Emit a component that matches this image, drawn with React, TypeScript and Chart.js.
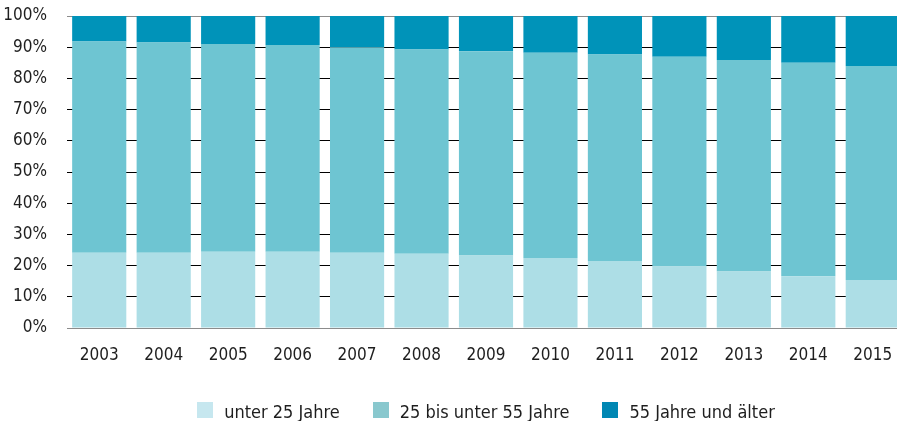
import React, { useEffect, useRef } from "react";
import { Chart, registerables } from "chart.js";

Chart.register(...registerables);

const years = ["2003", "2004", "2005", "2006", "2007", "2008", "2009", "2010", "2011", "2012", "2013", "2014", "2015"];
const seriesLabels = ["unter 25 Jahre", "25 bis unter 55 Jahre", "55 Jahre und älter"];
const under25 = [24.1, 24.1, 24.4, 24.4, 24.1, 23.8, 23.2, 22.4, 21.5, 19.7, 18.1, 16.6, 15.4];
const from25to55 = [67.7, 67.4, 66.6, 66.3, 65.9, 65.5, 65.5, 65.8, 66.2, 67.2, 67.8, 68.4, 68.6];
const over55 = [8.2, 8.5, 9.0, 9.3, 10.0, 10.7, 11.3, 11.8, 12.3, 13.1, 14.1, 15.0, 16.0];
const yTicks = [0, 10, 20, 30, 40, 50, 60, 70, 80, 90, 100];

const barColors = ["#addee6", "#6ec5d2", "#0093b9"];
const legendColors = ["#c6e7ef", "#89c8ce", "#0087b3"];
const FONT = '"DejaVu Sans Condensed", "DejaVu Sans", sans-serif';
const TEXT = "#1e1e1e";

const legendPlugin = {
  id: "customLegend",
  afterDraw(chart: any) {
    const ctx = chart.ctx;
    const area = chart.chartArea;
    ctx.save();
    ctx.font = `18px ${FONT}`;
    ctx.textBaseline = "alphabetic";
    ctx.textAlign = "left";
    const box = 16;
    const gap = 11;
    const itemGap = 33;
    const widths = seriesLabels.map((t) => box + gap + ctx.measureText(t).width);
    const total = widths.reduce((a, b) => a + b, 0) + itemGap * (widths.length - 1);
    let x = (area.left + area.right) / 2 - total / 2;
    const boxTop = 402;
    const baseline = 418;
    seriesLabels.forEach((t, i) => {
      ctx.fillStyle = legendColors[i];
      ctx.fillRect(Math.round(x), boxTop, box, box);
      ctx.fillStyle = TEXT;
      ctx.fillText(t, x + box + gap, baseline);
      x += widths[i] + itemGap;
    });
    ctx.restore();
  },
};

export default function App() {
  const ref = useRef<HTMLCanvasElement>(null);
  useEffect(() => {
    if (!ref.current) return;
    const chart = new Chart(ref.current, {
      type: "bar",
      data: {
        labels: years,
        datasets: [
          { label: seriesLabels[0], data: under25, backgroundColor: barColors[0] },
          { label: seriesLabels[1], data: from25to55, backgroundColor: barColors[1] },
          { label: seriesLabels[2], data: over55, backgroundColor: barColors[2] },
        ],
      },
      options: {
        animation: false,
        responsive: true,
        maintainAspectRatio: false,
        layout: { padding: { top: 16, left: 0, right: 0, bottom: 0 } },
        datasets: { bar: { barPercentage: 0.84, categoryPercentage: 1, borderWidth: 0 } },
        plugins: { legend: { display: false }, tooltip: { enabled: false } },
        scales: {
          x: {
            stacked: true,
            grid: { display: false },
            border: { display: false },
            ticks: { color: TEXT, font: { family: FONT, size: 17 }, padding: 9, maxRotation: 0 },
            afterFit: (s: any) => {
              s.height = 93;
            },
          },
          y: {
            stacked: true,
            min: 0,
            max: 100,
            border: { display: false },
            afterBuildTicks: (s: any) => {
              s.ticks = yTicks.map((v) => ({ value: v }));
            },
            afterFit: (s: any) => {
              s.width = 67;
              s.paddingTop = 0;
              s.paddingBottom = 0;
            },
            grid: {
              drawTicks: false,
              lineWidth: 1,
              color: (c: any) => (c.tick && (c.tick.value === 0 || c.tick.value === 100) ? "#8c8c8c" : "#000000"),
            },
            ticks: {
              color: TEXT,
              font: { family: FONT, size: 17 },
              padding: 20,
              callback: (v: any) => `${v}%`,
            },
          },
        },
      },
      plugins: [legendPlugin],
    });
    return () => chart.destroy();
  }, []);
  return (
    <div style={{ position: "fixed", left: 0, top: 0, width: 897, height: 421, overflow: "hidden", background: "#fff" }}>
      <div style={{ position: "relative", width: 905, height: 421 }}>
        <canvas ref={ref} />
      </div>
    </div>
  );
}
